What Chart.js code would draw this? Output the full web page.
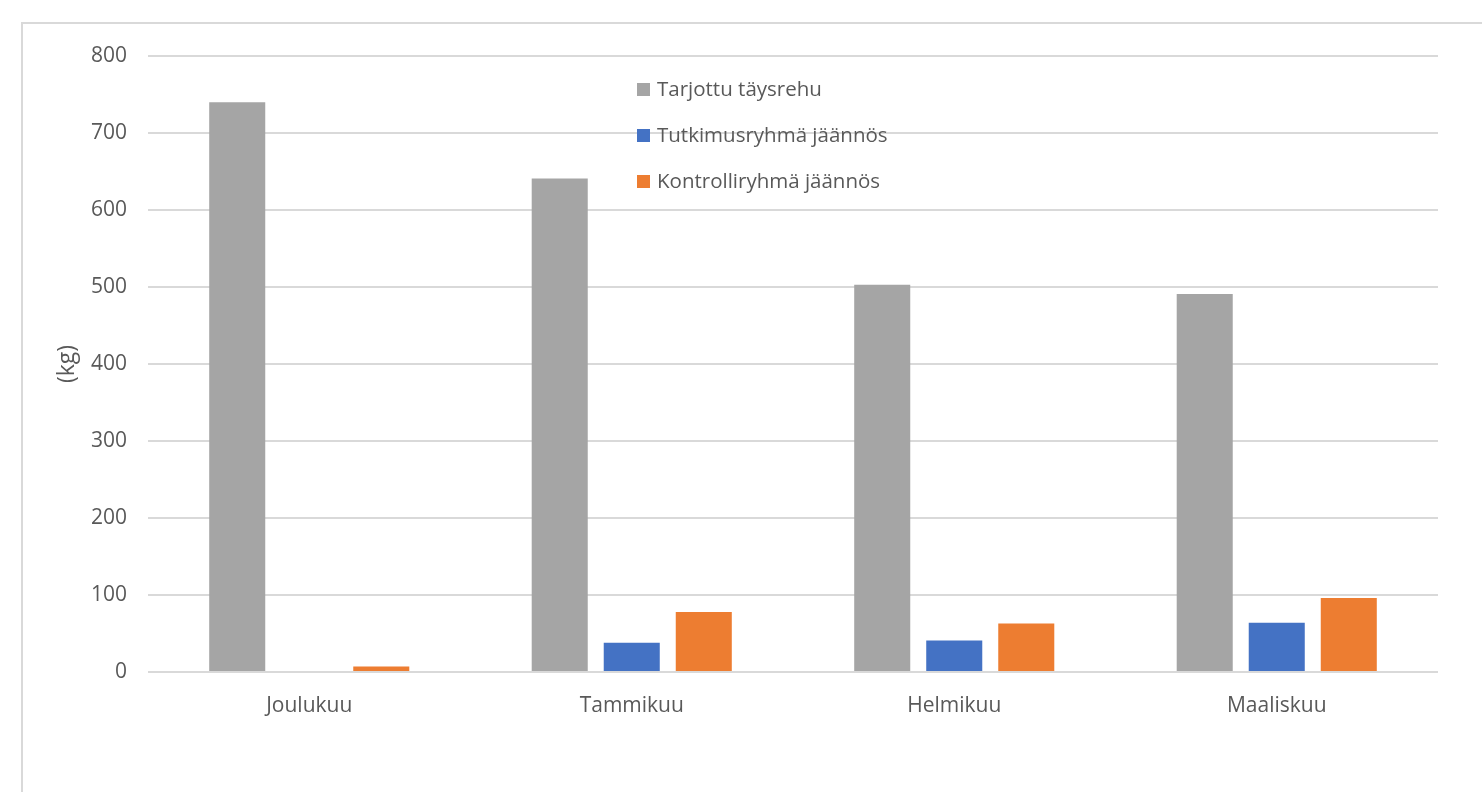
<!DOCTYPE html>
<html>
<head>
<meta charset="utf-8">
<script src="https://cdn.jsdelivr.net/npm/chart.js@4"></script>
<style>
  html, body { margin: 0; padding: 0; background: #fff; overflow: hidden; }
  #wrap { position: relative; width: 1482px; height: 792px; }
  #frame { position: absolute; left: 21px; top: 22px; width: 1600px; height: 900px; border: 2px solid #d9d9d9; box-sizing: border-box; }
  #legend { position: absolute; left: 637px; top: 74px; font-family: "Open Sans", sans-serif; font-size: 20.5px; color: #595959; }
  #legend div { height: 46px; display: flex; align-items: flex-start; }
  #legend span.box { display: inline-block; width: 13px; height: 13px; margin-right: 7px; margin-top: 9px; }
  canvas { position: absolute; left: 0; top: 0; }
</style>
</head>
<body>
<div id="wrap">
  <div id="frame"></div>
  <canvas id="chart" width="1482" height="792"></canvas>
  <div id="legend"></div>
</div>
<script>
// kuukaudet
const kuukaudet = ["Joulukuu", "Tammikuu", "Helmikuu", "Maaliskuu"];

// arvot (kg)
const tarjottu = [740, 641, 503, 491];
const tutkimus = [0, 38, 41, 64];
const kontrolli = [7, 78, 63, 96];

const sarjat = ["Tarjottu täysrehu", "Tutkimusryhmä jäännös", "Kontrolliryhmä jäännös"];
const varit = ["#a5a5a5", "#4472c4", "#ed7d31"];

const yTicks = [0, 100, 200, 300, 400, 500, 600, 700, 800];

const fontti = "'Open Sans', sans-serif";

function teeLegenda() {
  const el = document.getElementById("legend");
  sarjat.forEach((s, i) => {
    el.innerHTML += `<div><span class="box" style="background:${varit[i]}"></span>${s}</div>`;
  });
}

const ctx = document.getElementById("chart");
new Chart(ctx, {
  type: "bar",
  data: {
    labels: kuukaudet,
    datasets: [
      { label: sarjat[0], data: tarjottu, backgroundColor: varit[0] },
      { label: sarjat[1], data: tutkimus, backgroundColor: varit[1] },
      { label: sarjat[2], data: kontrolli, backgroundColor: varit[2] },
    ],
  },
  options: {
    responsive: false,
    animation: false,
    categoryPercentage: 0.67,
    barPercentage: 0.778,
    layout: { padding: { top: 56, right: 44, bottom: 0, left: 0 } },
    plugins: {
      legend: { display: false },
      tooltip: { enabled: false },
    },
    scales: {
      x: {
        grid: { display: false },
        border: { display: false },
        ticks: { color: "#595959", font: { family: fontti, size: 21 }, padding: 13 },
        afterFit: (s) => { s.height = 120; },
      },
      y: {
        min: 0,
        max: 800,
        afterBuildTicks: (s) => { s.ticks = yTicks.map((v) => ({ value: v })); },
        grid: { color: "#d9d9d9", lineWidth: 2, drawTicks: false },
        border: { display: false },
        ticks: { color: "#595959", font: { family: fontti, size: 21 }, padding: 21 },
        title: {
          display: true,
          text: "(kg)",
          color: "#595959",
          font: { family: fontti, size: 23 },
          padding: { top: 54, bottom: 0 },
        },
        afterFit: (s) => { s.width = 148; },
      },
    },
  },
});

teeLegenda();
</script>
</body>
</html>
